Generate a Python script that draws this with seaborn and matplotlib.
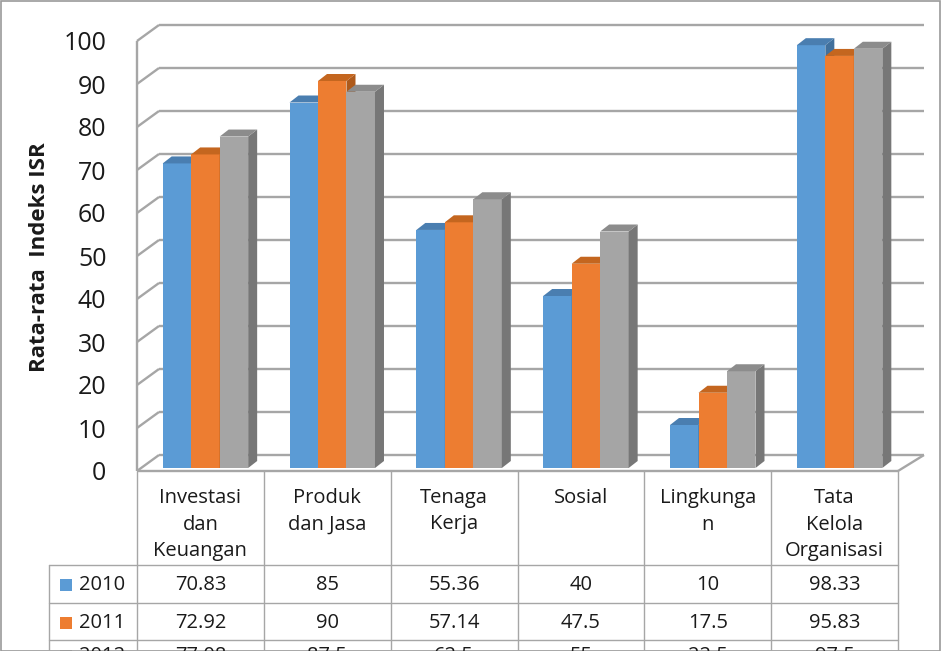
import numpy as np
import pandas as pd
import matplotlib
matplotlib.use('Agg')
import matplotlib.pyplot as plt
import matplotlib.transforms as mtransforms
from matplotlib.patches import Polygon, Rectangle
from matplotlib.lines import Line2D
import seaborn as sns

# data
aspek = ['Investasi\ndan\nKeuangan', 'Produk\ndan Jasa', 'Tenaga\nKerja',
         'Sosial', 'Lingkunga\nn', 'Tata\nKelola\nOrganisasi']
tahun = ['2010', '2011', '2012']
nilai_2010 = [70.83, 85, 55.36, 40, 10, 98.33]
nilai_2011 = [72.92, 90, 57.14, 47.5, 17.5, 95.83]
nilai_2012 = [77.08, 87.5, 62.5, 55, 22.5, 97.5]
y_ticks = list(range(0, 101, 10))

warna = ['#5B9BD5', '#ED7D31', '#A5A5A5']
warna_atas = ['#4A7EB0', '#C4661F', '#8C8C8C']
warna_sisi = ['#41709C', '#AE5A1B', '#777777']
abu = '#A6A6A6'

sns.set_style('white')
plt.rcParams['font.family'] = ['Open Sans', 'DejaVu Sans']

W, H = 941, 651
fig = plt.figure(figsize=(W / 100, H / 100), dpi=100)


def fx(x):
    return x / W


def fy(y):
    return 1 - y / H


ax = fig.add_axes([fx(137), fy(471), (898 - 137) / W, (471 - 41) / H])
ax.set_facecolor('none')

df = pd.DataFrame({
    'aspek': aspek * 3,
    'tahun': np.repeat(tahun, len(aspek)),
    'nilai': nilai_2010 + nilai_2011 + nilai_2012,
})
sns.barplot(data=df, x='aspek', y='nilai', hue='tahun', palette=warna,
            width=0.674, saturation=1, errorbar=None, legend=False, ax=ax)
ax.set_xlim(-0.5, 5.5)
ax.set_ylim(0, 100)
ax.set_xlabel('')
ax.set_ylabel('')
ax.set_xticks([])
ax.set_yticks(y_ticks)
ax.tick_params(axis='y', length=0, pad=22, labelsize=18, labelcolor='#1a1a1a')
sns.despine(ax=ax, left=True, bottom=True)


def to_disp(x, y):
    return ax.transData.transform((x, y))


def to_data(pts):
    return ax.transData.inverted().transform(np.array(pts))


def garis(p0, p1, **kw):
    d = to_data([p0, p1])
    ax.add_line(Line2D(d[:, 0], d[:, 1], color=abu, lw=1.7, clip_on=False,
                       zorder=1, solid_capstyle='butt', **kw))


# dinding belakang dan samping (gaya 3D)
back_l = np.array([22, 16])
back_r = np.array([26, 16])
for v in y_ticks:
    fl = to_disp(-0.5, v)
    fr = to_disp(5.5, v)
    garis(fl, fl + back_l)
    garis(fl + back_l, fr + back_r)
garis(to_disp(-0.5, 0), to_disp(-0.5, 100))
garis(to_disp(-0.5, 0), to_disp(5.5, 0))
garis(to_disp(5.5, 0), to_disp(5.5, 0) + back_r)

# batang 3D
geser = np.array([5, 3])
dalam = np.array([9, 7])
off = mtransforms.ScaledTranslation(geser[0] / 100, geser[1] / 100, fig.dpi_scale_trans)
for i, p in enumerate(ax.patches):
    k = i // len(aspek)
    z = 3 + k
    p.set_transform(ax.transData + off)
    p.set_clip_on(False)
    p.set_linewidth(0)
    p.set_zorder(z)
    x0, y0 = to_disp(p.get_x(), 0) + geser
    x1, y1 = to_disp(p.get_x() + p.get_width(), p.get_height()) + geser
    dx, dy = dalam
    sisi = to_data([(x1, y0), (x1, y1), (x1 + dx, y1 + dy), (x1 + dx, y0 + dy)])
    atas = to_data([(x0, y1), (x1, y1), (x1 + dx, y1 + dy), (x0 + dx, y1 + dy)])
    ax.add_patch(Polygon(sisi, closed=True, facecolor=warna_sisi[k], lw=0,
                         clip_on=False, zorder=z))
    ax.add_patch(Polygon(atas, closed=True, facecolor=warna_atas[k], lw=0,
                         clip_on=False, zorder=z))

# label sumbu y
fig.text(fx(40), fy(257), 'Rata-rata  Indeks ISR', rotation=90, fontsize=16,
         fontweight='bold', ha='center', va='center', color='#1a1a1a')

# tabel data
batas = [to_disp(k - 0.5, 0)[0] for k in range(len(aspek) + 1)]
tengah = [(batas[k] + batas[k + 1]) / 2 for k in range(len(aspek))]
y_baris = [565, 603, 640, 670]
garis_tabel = dict(color=abu, lw=1.0)

for b in batas:
    fig.add_artist(Line2D([fx(b), fx(b)], [fy(471), fy(H + 5)], **garis_tabel))
fig.add_artist(Line2D([fx(49), fx(49)], [fy(y_baris[0]), fy(H + 5)], **garis_tabel))
for yb in y_baris[:3]:
    fig.add_artist(Line2D([fx(49), fx(batas[-1])], [fy(yb), fy(yb)], **garis_tabel))

for k, lab in enumerate(aspek):
    for j, baris in enumerate(lab.split('\n')):
        fig.text(fx(tengah[k]), fy(498 + j * 26.5), baris, fontsize=14.5,
                 ha='center', va='center', color='#1a1a1a')

for r, (th, vals) in enumerate(zip(tahun, [nilai_2010, nilai_2011, nilai_2012])):
    yc = (y_baris[r] + y_baris[r + 1]) / 2 + 1
    fig.add_artist(Rectangle((fx(60), fy(yc + 6)), 12 / W, 12 / H,
                             facecolor=warna[r], lw=0))
    fig.text(fx(79), fy(yc), th, fontsize=14.5, ha='left', va='center', color='#1a1a1a')
    for k, v in enumerate(vals):
        fig.text(fx(tengah[k]), fy(yc), f'{v:g}', fontsize=14.5,
                 ha='center', va='center', color='#1a1a1a')

# bingkai luar
fig.add_artist(Rectangle((0.5 / W, 0), (W - 2) / W, (H - 1) / H, fill=False,
                         edgecolor='#9a9a9a', lw=1.2))

fig.savefig('out.png', dpi=100)
